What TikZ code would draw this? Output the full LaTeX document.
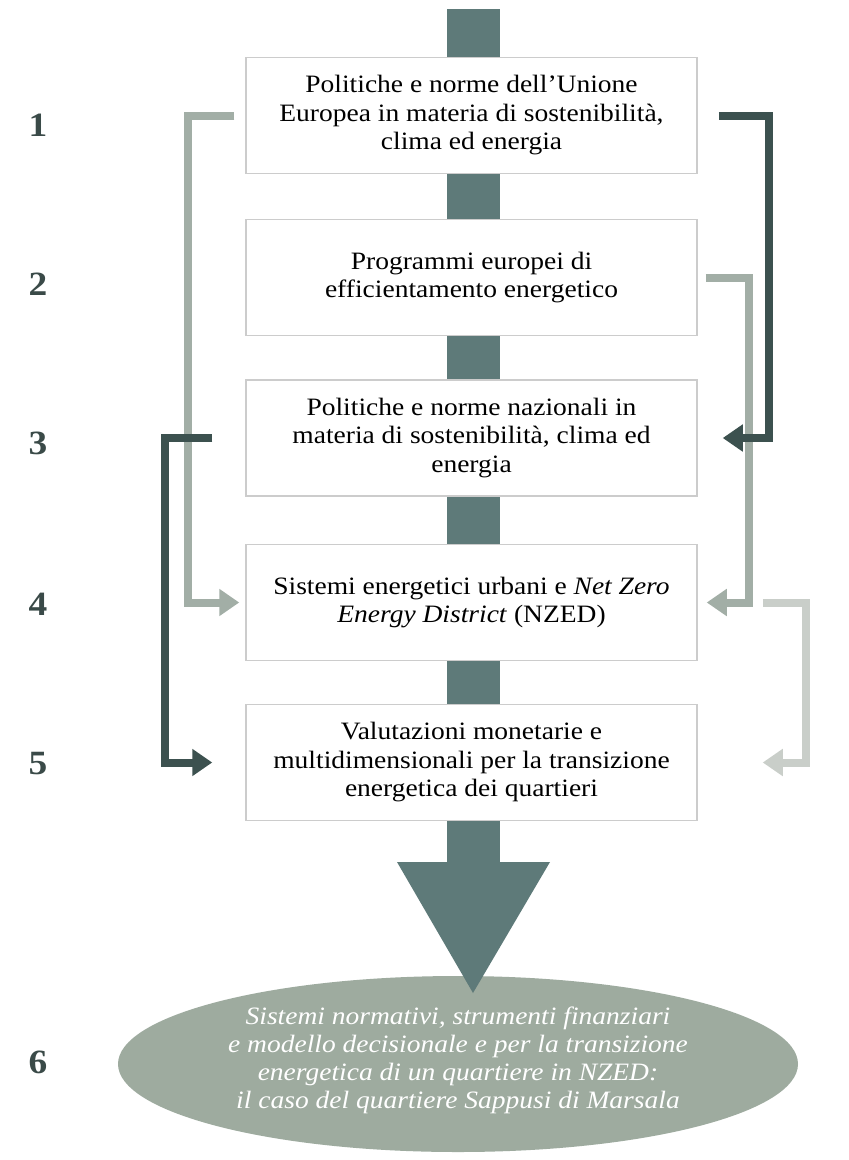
\documentclass[tikz,border=0pt]{standalone}
\usepackage{fontspec}
\setmainfont{Liberation Serif}[FakeStretch=1.1]
\usetikzlibrary{arrows.meta,shapes.geometric}

\definecolor{barc}{HTML}{5E7A79}
\definecolor{darkc}{HTML}{3C514F}
\definecolor{lightc}{HTML}{A2AEA6}
\definecolor{palec}{HTML}{C9CEC9}
\definecolor{ellc}{HTML}{9EAB9F}
\definecolor{boxline}{HTML}{CCCCCC}
\definecolor{numc}{HTML}{3A4A48}

\tikzset{
  stagebox/.style={draw=boxline, line width=1.5pt, fill=white,
    minimum width=451pt, minimum height=116pt, inner sep=0pt,
    align=center, font=\fontsize{25}{28.5}\selectfont},
  stagenum/.style={font=\fontsize{34}{34}\selectfont\bfseries, text=numc},
  goaltext/.style={align=center, text=white, inner sep=0pt,
    font=\fontsize{25}{28}\selectfont\itshape},
  link/.style={line width=8pt, line join=miter},
  linktip/.style={-{Triangle[length=20pt,width=26pt]}}
}

\begin{document}
\begin{tikzpicture}[x=1pt,y=-1pt]
\useasboundingbox (0,0) rectangle (849,1160);
\fill[white] (0,0) rectangle (849,1160);

% central spine running through the stages
\fill[barc] (446.5,9) rectangle (499.5,866);

% stages
\node[stagebox] (b1) at (471.5,115.5) {Politiche e norme dell’Unione\\Europea in materia di sostenibilità,\\clima ed energia};
\node[stagebox] (b2) at (471.5,277.5) {Programmi europei di\\efficientamento energetico};
\node[stagebox] (b3) at (471.5,438) {Politiche e norme nazionali in\\materia di sostenibilità, clima ed\\energia};
\node[stagebox] (b4) at (471.5,602.5) {Sistemi energetici urbani e \textit{Net Zero}\\\textit{Energy District} (NZED)};
\node[stagebox] (b5) at (471.5,762.5) {Valutazioni monetarie e\\multidimensionali per la transizione\\energetica dei quartieri};

% outcome
\node[ellipse, fill=ellc, minimum width=680pt, minimum height=176pt, inner sep=0pt] (goal) at (458,1064) {};
\node[goaltext] (goaltxt) at ([yshift=4pt]goal.center)
  {Sistemi normativi, strumenti finanziari\\e modello decisionale e per la transizione\\energetica di un quartiere in NZED:\\il caso del quartiere Sappusi di Marsala};

% arrow head of the spine
\fill[barc] (397,862) -- (550,862) -- (473,993) -- cycle;

% stage numbers
\node[stagenum] (n1) at (38,125) {1};
\node[stagenum] (n2) at (38,284) {2};
\node[stagenum] (n3) at (38,443) {3};
\node[stagenum] (n4) at (38,604) {4};
\node[stagenum] (n5) at (38,764) {5};
\node[stagenum] (n6) at (38,1062) {6};

% feedback links, light ones underneath
\draw[link,palec,linktip] ([xshift=65pt]b4.east) -- ++(43,0) |- ([xshift=65pt]b5.east);
\draw[link,lightc,linktip] ([xshift=-11pt]b1.west) -- ++(-46,0) |- ([xshift=-6pt]b4.west);
\draw[link,lightc,linktip] ([xshift=8pt]b2.east) -- ++(43,0) |- ([xshift=9pt]b4.east);
\draw[link,darkc,linktip] ([xshift=21pt]b1.east) -- ++(50,0) |- ([xshift=25pt]b3.east);
\draw[link,darkc,linktip] ([xshift=-33pt]b3.west) -- ++(-47,0) |- ([xshift=-33pt]b5.west);
\end{tikzpicture}
\end{document}
